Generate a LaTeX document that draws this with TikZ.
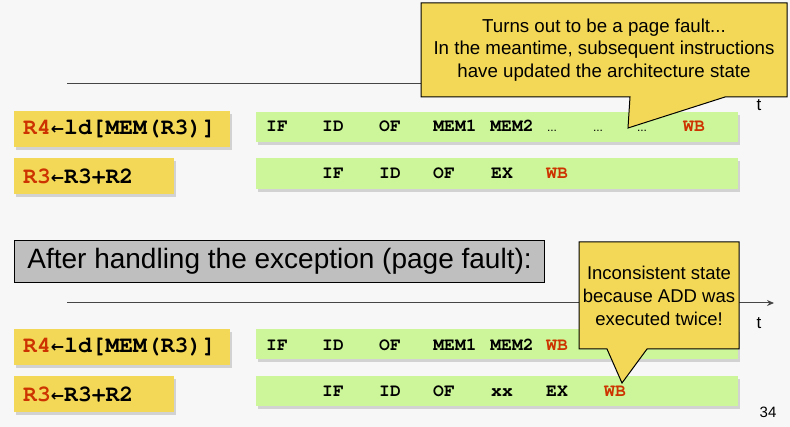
\documentclass[tikz,border=0pt]{standalone}
\usepackage{fontspec}
\setmainfont{Liberation Sans}
\newfontfamily\codefont{TeX Gyre Cursor}
\newfontfamily\arrowfont{DejaVu Sans}
\usepackage{tikz}
\usetikzlibrary{arrows.meta,positioning,shadows}
\usepackage{xcolor}
\definecolor{slidebg}{RGB}{247,247,247}
\definecolor{instryellow}{RGB}{243,216,88}
\definecolor{stagegreen}{RGB}{204,246,153}
\definecolor{wbred}{RGB}{204,51,0}
\definecolor{titlegray}{RGB}{191,191,191}
\definecolor{axisgray}{RGB}{70,70,70}

\newcommand{\regname}[1]{\textcolor{wbred}{#1}}
\newcommand{\getsarrow}{{\arrowfont\fontsize{16}{16}\selectfont ←}}

\tikzset{
    softshadow/.style={drop shadow={shadow xshift=2pt, shadow yshift=-3pt, opacity=0.15, fill=black}},
    instrbox/.style={anchor=north west, fill=instryellow, softshadow, minimum height=36pt,
        inner xsep=9pt, inner ysep=0pt, align=left,
        font=\codefont\bfseries\fontsize{23}{23}\selectfont},
    stagebar/.style={anchor=north west, fill=stagegreen, softshadow, minimum width=482pt, inner sep=0pt},
    stage/.style={anchor=base, inner sep=0pt, font=\codefont\bfseries\fontsize{18}{18}\selectfont},
    wbstage/.style={stage, text=wbred},
    gapdots/.style={anchor=base, inner sep=0pt, font=\fontsize{12}{12}\selectfont},
    timeaxis/.style={draw=axisgray, line width=1pt, -{Stealth[length=7pt,width=6pt]}},
    calloutbox/.style={fill=instryellow, draw=black, line width=1pt, line join=miter},
    callouttext/.style={align=center, inner sep=0pt, font=\fontsize{18.7}{22.5}\selectfont}
}

\begin{document}
\begin{tikzpicture}[x=1pt, y=-1pt]
    % --- page ---
    \fill[slidebg] (0,0) rectangle (790,427);
    \useasboundingbox (0,0) rectangle (790,427);

    % --- before the exception ---
    \coordinate (axisAs) at (67,84);
    \coordinate (axisAe) at (774,84);
    \draw[timeaxis] (axisAs) -- (axisAe);
    \node[font=\fontsize{17}{17}\selectfont] (tA) at (759,105) {t};

    \node[instrbox, text width=198pt] (ldA) at (14,111) {\regname{R4}\getsarrow ld[MEM(R3)]};
    \node[instrbox, text width=142pt] (addA) at (14,158) {\regname{R3}\getsarrow R3+R2};

    \node[stagebar, minimum height=30pt] (barA) at (256,112) {};
    \node[stagebar, minimum height=31pt] (barB) at (256,158) {};

    \foreach \x/\s in {277/IF,333/ID,390/OF,455/MEM1,512/MEM2}{
        \node[stage] (ldA-\s) at (\x,132) {\s};
    }
    \foreach \x/\n in {552/1,598/2,642/3}{
        \node[gapdots] (gapA-\n) at (\x,132) {...};
    }
    \node[wbstage] (ldA-WB) at (694,132) {WB};

    \foreach \x/\s in {333/IF,390/ID,444/OF,502/EX}{
        \node[stage] (addA-\s) at (\x,179) {\s};
    }
    \node[wbstage] (addA-WB) at (557,179) {WB};

    % callout: page fault
    \draw[calloutbox] (421,3) -- (787,3) -- (787,97) -- (725,97) -- (628,128)
        -- (630,97) -- (421,97) -- cycle;
    \node[callouttext] (faultnote) at (604,50)
        {Turns out to be a page fault...\\In the meantime, subsequent instructions\\have updated the architecture state};

    % --- after the exception ---
    \node[anchor=north west, fill=titlegray, draw=black, line width=0.8pt, minimum width=530pt,
        minimum height=42pt, inner xsep=13pt, inner ysep=0pt, align=left,
        font=\fontsize{28}{28}\selectfont] (aftertitle) at (14,240)
        {After handling the exception (page fault):};

    \coordinate (axisBs) at (67,303);
    \coordinate (axisBe) at (774,303);
    \draw[timeaxis] (axisBs) -- (axisBe);
    \node[font=\fontsize{17}{17}\selectfont] (tB) at (759,323) {t};

    \node[instrbox, text width=198pt] (ldB) at (14,329) {\regname{R4}\getsarrow ld[MEM(R3)]};
    \node[instrbox, text width=142pt] (addB) at (14,376) {\regname{R3}\getsarrow R3+R2};

    \node[stagebar, minimum height=30pt] (barC) at (256,329) {};
    \node[stagebar, minimum height=30pt] (barD) at (256,376) {};

    \foreach \x/\s in {277/IF,333/ID,390/OF,455/MEM1,512/MEM2}{
        \node[stage] (ldB-\s) at (\x,351) {\s};
    }
    \node[wbstage] (ldB-WB) at (557,351) {WB};

    \foreach \x/\s in {333/IF,390/ID,444/OF,502/xx,557/EX}{
        \node[stage] (addB-\s) at (\x,397) {\s};
    }
    \node[wbstage] (addB-WB) at (615,397) {WB};

    % callout: inconsistent state
    \draw[calloutbox] (579,242) -- (739,242) -- (739,349) -- (647,349) -- (622,383)
        -- (607,349) -- (579,349) -- cycle;
    \node[callouttext, font=\fontsize{18.5}{23}\selectfont] (statenote) at (659,296)
        {Inconsistent state\\because ADD was\\executed twice!};

    \node[font=\fontsize{15}{15}\selectfont] (pagenum) at (768,412) {34};
\end{tikzpicture}
\end{document}
